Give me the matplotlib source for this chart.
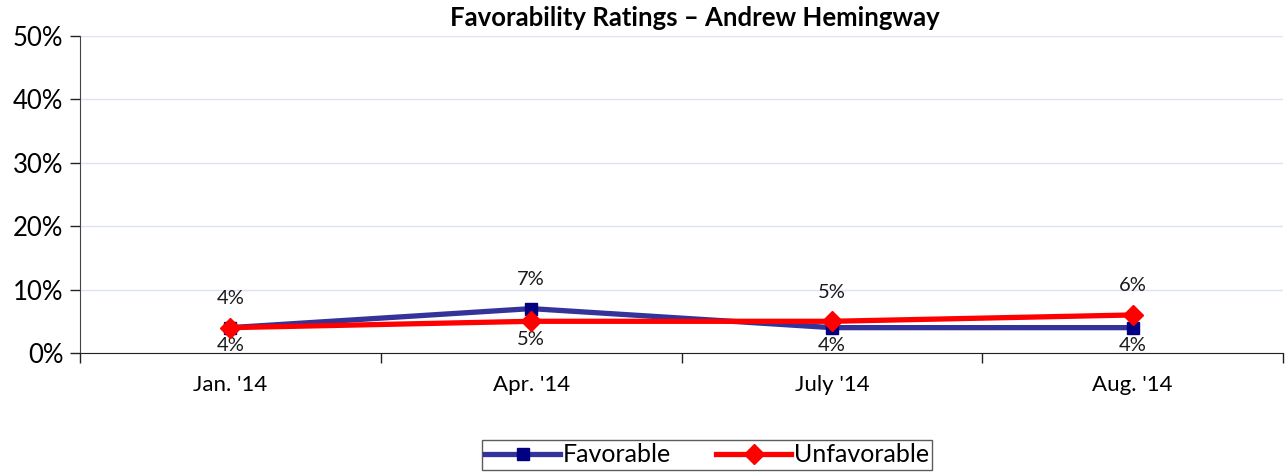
import matplotlib.pyplot as plt
from matplotlib.ticker import FixedLocator, PercentFormatter, NullFormatter

plt.rcParams["font.family"] = ["Lato", "DejaVu Sans"]

# chart data
months = ["Jan. '14", "Apr. '14", "July '14", "Aug. '14"]
favorable = [4, 7, 4, 4]
unfavorable = [4, 5, 5, 6]

# label placement for each point: above or below the marker
fav_side = ["above", "above", "below", "below"]
unfav_side = ["below", "below", "above", "above"]


def add_labels(ax, xs, values, sides):
    for x, v, side in zip(xs, values, sides):
        dy = 21 if side == "above" else -13
        ax.annotate(f"{v}%", (x, v), xytext=(0, dy), textcoords="offset points",
                    ha="center", va="center", fontsize=14.5, color="#1a1a1a")


def main():
    fig = plt.figure(figsize=(12.86, 4.75), dpi=100)
    ax = fig.add_axes((80 / 1286, 1 - 353 / 475, 1203 / 1286, 317 / 475))

    xs = list(range(len(months)))
    ax.plot(xs, favorable, color="#333399", lw=3.8, marker="s", ms=9,
            mfc="#000080", mec="#000080", label="Favorable", zorder=3)
    ax.plot(xs, unfavorable, color="#ff0000", lw=3.8, marker="D", ms=10,
            mfc="#ff0000", mec="#ff0000", label="Unfavorable", zorder=4)

    add_labels(ax, xs, favorable, fav_side)
    add_labels(ax, xs, unfavorable, unfav_side)

    ax.set_xlim(-0.5, len(months) - 0.5)
    ax.set_ylim(0, 50)
    ax.set_yticks(range(0, 51, 10))
    ax.yaxis.set_major_formatter(PercentFormatter(decimals=0))
    ax.tick_params(axis="y", labelsize=18.5, length=7, width=1, colors="#222222",
                   pad=5)
    for lab in ax.get_yticklabels():
        lab.set_color("black")

    # category boundary ticks, labels in the middle
    ax.xaxis.set_major_locator(FixedLocator([i - 0.5 for i in range(len(months) + 1)]))
    ax.xaxis.set_major_formatter(NullFormatter())
    ax.xaxis.set_minor_locator(FixedLocator(xs))
    ax.set_xticklabels(months, minor=True)
    ax.tick_params(axis="x", which="major", length=7, width=1, colors="#222222")
    ax.tick_params(axis="x", which="minor", length=0, labelsize=16, pad=16)

    ax.grid(axis="y", color="#dde3f0", lw=1)
    ax.set_axisbelow(True)
    for side in ["top", "right"]:
        ax.spines[side].set_visible(False)
    ax.spines["left"].set_color("#444444")
    ax.spines["bottom"].set_color("#222222")

    fig.text(695 / 1286, 1 - 18 / 475, "Favorability Ratings \u2013 Andrew Hemingway",
             ha="center", va="center", fontsize=18.5, fontweight="bold")

    leg = fig.legend(loc="center", bbox_to_anchor=(707 / 1286, 1 - 455 / 475),
                     ncol=2, fontsize=18, frameon=True, fancybox=False,
                     edgecolor="#333333", handlelength=3.0, handletextpad=0.1,
                     columnspacing=1.8, borderpad=0.15)
    leg.get_frame().set_linewidth(1)

    fig.savefig("out.png", dpi=100)
    plt.close(fig)


if __name__ == "__main__":
    main()
